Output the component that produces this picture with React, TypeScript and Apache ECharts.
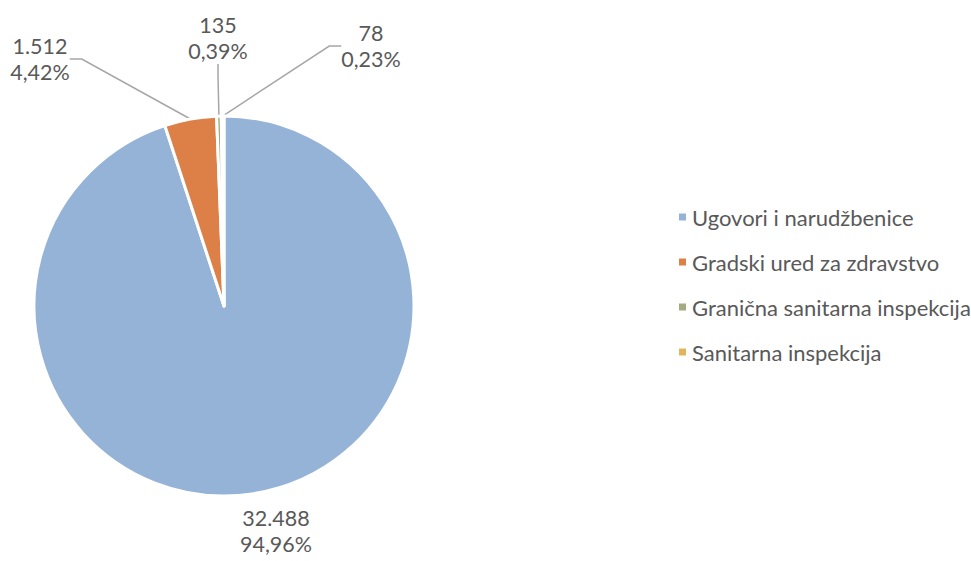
import React, { useEffect, useRef } from "react";
import * as echarts from "echarts";

const categories = [
  "Ugovori i narudžbenice",
  "Gradski ured za zdravstvo",
  "Granična sanitarna inspekcija",
  "Sanitarna inspekcija",
];
const values = [32488, 1512, 135, 78];
const colors = ["#95B3D7", "#DD8047", "#A5AB81", "#E3B55A"];

const labelSpots = [
  { x: 276, y: 531 },
  { x: 40, y: 59 },
  { x: 218, y: 38 },
  { x: 371, y: 46 },
];

const total = values.reduce((a, b) => a + b, 0);
const fmtThousands = (v: number) =>
  String(v).replace(/\B(?=(\d{3})+(?!\d))/g, ".");
const fmtPct = (v: number) => ((v / total) * 100).toFixed(2).replace(".", ",") + "%";

export default function App() {
  const ref = useRef<HTMLDivElement>(null);
  useEffect(() => {
    if (!ref.current) return;
    const chart = echarts.init(ref.current, undefined, { renderer: "svg" });
    chart.setOption({
      animation: false,
      backgroundColor: "#ffffff",
      textStyle: { fontFamily: "Lato" },
      legend: {
        orient: "vertical",
        left: 672,
        top: 201,
        itemWidth: 9,
        itemHeight: 9,
        itemGap: 23,
        icon: "rect",
        textStyle: { color: "#595959", fontSize: 22, fontFamily: "Lato" },
        data: categories,
      },
      series: [
        {
          type: "pie",
          center: [224, 306],
          radius: 190,
          startAngle: 90,
          clockwise: true,
          itemStyle: { borderColor: "#ffffff", borderWidth: 3 },
          label: {
            show: true,
            position: "outside",
            color: "#595959",
            fontSize: 21.5,
            lineHeight: 26,
            fontFamily: "Lato",
            overflow: "none",
            formatter: (p: any) => fmtThousands(p.value) + "\n" + fmtPct(p.value),
          },
          labelLine: {
            show: true,
            length: 20,
            length2: 12,
            lineStyle: { color: "#A6A6A6", width: 1.5 },
          },
          labelLayout: (params: any) => {
            const s = labelSpots[params.dataIndex];
            return { x: s.x, y: s.y, align: "center", verticalAlign: "middle" };
          },
          data: categories.map((name, i) => ({
            name,
            value: values[i],
            itemStyle: { color: colors[i] },
            labelLine: { show: i !== 0 },
          })),
        },
      ],
    });
    return () => chart.dispose();
  }, []);
  return (
    <div
      ref={ref}
      style={{ position: "fixed", left: 0, top: 0, width: 971, height: 561 }}
    />
  );
}
